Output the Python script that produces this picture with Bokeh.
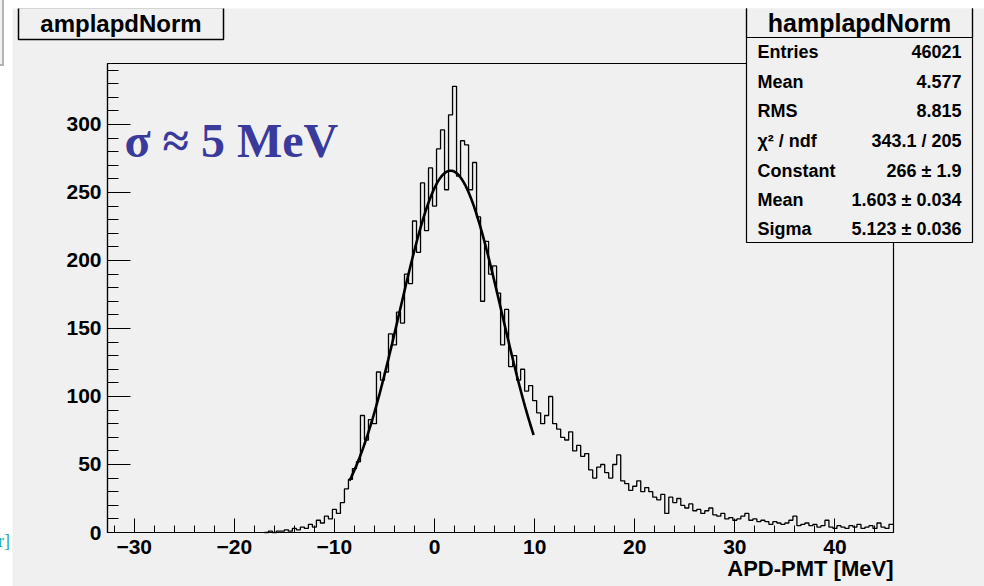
import numpy as np
from bokeh.plotting import figure
from bokeh.models import Range1d, SingleIntervalTicker, Label, BoxAnnotation, Div, LinearAxis
from bokeh.layouts import row
from bokeh.embed import file_html
from bokeh.resources import INLINE

# ---------------- data ----------------
bin_lo = -17.0
bin_width = 0.4
counts = [
    0, 1, 0, 1, 1, 2, 1, 3, 2, 4,
    3, 6, 4, 9, 7, 12, 10, 17, 14, 22,
    32, 39, 47, 52, 86, 68, 83, 80, 118, 112,
    118, 146, 138, 162, 154, 190, 183, 229, 206, 257,
    222, 268, 240, 282, 296, 252, 307, 328, 262, 288,
    285, 252, 272, 232, 170, 214, 190, 196, 176, 138,
    164, 122, 130, 112, 120, 104, 108, 97, 88, 80,
    86, 100, 80, 76, 70, 68, 74, 60, 64, 56,
    58, 46, 40, 48, 50, 44, 40, 50, 57, 38,
    36, 31, 34, 38, 30, 33, 30, 26, 24, 28,
    14, 26, 22, 25, 20, 18, 21, 16, 17, 14,
    16, 18, 13, 12, 14, 10, 11, 9, 10, 12,
    14, 9, 10, 8, 9, 8, 6, 8, 7, 6,
    7, 9, 12, 5, 6, 7, 5, 6, 4, 5,
    9, 4, 3, 5, 4, 3, 5, 4, 6, 3,
    4, 5, 3, 7, 4, 3, 6,
]

x_min, x_max = -32.67, 45.85
y_min, y_max = 0.0, 344.8

fit_constant = 266.0
fit_mean = 1.603
fit_sigma = 5.123
fit_lo, fit_hi = -8.5, 9.9

title_text = "amplapdNorm"
stats_title = "hamplapdNorm"
stats_names = ["Entries", "Mean", "RMS", "χ² / ndf", "Constant", "Mean", "Sigma"]
stats_values = ["46021", "4.577", "8.815", "343.1 / 205", "266 ± 1.9",
                "1.603 ± 0.034", "5.123 ± 0.036"]
x_label = "APD-PMT [MeV]"
note_text = "σ ≈ 5 MeV"

# ---------------- geometry ----------------
W, H = 972, 578          # figure size (page offset 12, 8)
OX, OY = 12, 8
FL, FR, FT, FB = 107, 893, 63, 532   # plot box in page pixels
BG = "#f0f0f0"


def px2x(px):
    return x_min + (px - FL) * (x_max - x_min) / (FR - FL)


def py2y(py):
    return y_min + (FB - py) * (y_max - y_min) / (FB - FT)


p = figure(width=W, height=H, output_backend="svg", toolbar_location=None,
           x_range=Range1d(px2x(OX), px2x(OX + W)),
           y_range=Range1d(py2y(OY + H), py2y(OY)),
           x_axis_type=None, y_axis_type=None,
           min_border=0, min_border_left=0, min_border_right=0,
           min_border_top=0, min_border_bottom=0,
           background_fill_color=BG, border_fill_color=BG,
           outline_line_color=None)
p.margin = (8, 0, 0, 0)

FONT = "Liberation Sans"
xaxis = LinearAxis(ticker=SingleIntervalTicker(interval=10, num_minor_ticks=5),
                   fixed_location=y_min, bounds=(x_min, x_max))
yaxis = LinearAxis(ticker=SingleIntervalTicker(interval=50, num_minor_ticks=5),
                   fixed_location=x_min, bounds=(y_min, y_max))
for ax, maj, mnr in ((xaxis, 14, 7), (yaxis, 23, 11)):
    ax.major_tick_in = maj
    ax.major_tick_out = 0
    ax.minor_tick_in = mnr
    ax.minor_tick_out = 0
    ax.axis_line_color = "black"
    ax.axis_line_width = 1.2
    ax.major_tick_line_color = "black"
    ax.minor_tick_line_color = "black"
    ax.major_label_text_font = FONT
    ax.major_label_text_font_style = "bold"
    ax.major_label_text_font_size = "21px"
    ax.major_label_text_color = "black"
xaxis.major_label_standoff = 7
yaxis.major_label_standoff = 6
p.add_layout(xaxis, "below")
p.add_layout(yaxis, "left")

# plot box outline (top and right edges)
p.add_layout(BoxAnnotation(left=x_min, right=x_max, bottom=y_min, top=y_max,
                           fill_alpha=0, line_color="black", line_alpha=1,
                           line_width=1.2, level="underlay"))

# histogram
edges = bin_lo + bin_width * np.arange(len(counts) + 1)
step_y = list(counts) + [counts[-1]]
p.step(x=edges, y=step_y, mode="after", line_color="black", line_width=1.3)

# gaussian fit
fx = np.linspace(fit_lo, fit_hi, 300)
fy = fit_constant * np.exp(-0.5 * ((fx - fit_mean) / fit_sigma) ** 2)
p.line(fx, fy, line_color="black", line_width=2.6)

# note
p.add_layout(Label(x=px2x(124), y=py2y(140), text=note_text, text_align="left",
                   text_baseline="middle", text_font="Liberation Serif",
                   text_font_style="bold", text_font_size="48px",
                   text_color="#3a3a9c"))


def dlabel(px, py, text, align, size):
    return Label(x=px2x(px), y=py2y(py), text=text, text_align=align,
                 text_baseline="middle", text_font=FONT, text_font_style="bold",
                 text_font_size=size, text_color="black")


def dbox(l, r, t, b, fill=True, lw=1.2):
    return BoxAnnotation(left=px2x(l), right=px2x(r), top=py2y(t), bottom=py2y(b),
                         fill_color=BG, fill_alpha=1 if fill else 0,
                         line_color="black", line_alpha=1, line_width=lw,
                         level="underlay")


# title box
p.add_layout(dbox(18, 223, 7, 39, lw=1.5))
p.add_layout(dlabel(120.5, 23, title_text, "center", "24px"))

# stats box
p.add_layout(dbox(746, 972, 7, 242))
p.add_layout(dbox(746, 972, 7, 37, fill=False))
p.add_layout(dlabel(859, 22, stats_title, "center", "25px"))
row_py = [51, 81, 110, 140, 170, 199, 228]
for name, val, ry in zip(stats_names, stats_values, row_py):
    p.add_layout(dlabel(757, ry, name, "left", "18px"))
    p.add_layout(dlabel(961, ry, val, "right", "18px"))

# x axis title (right aligned, like ROOT)
p.add_layout(dlabel(893, 568, x_label, "right", "22px"))

left = Div(width=12, height=586, margin=(0, 0, 0, 0),
           text=('<div style="position:relative;width:12px;height:586px;overflow:hidden;background:#fff">'
                 '<div style="position:absolute;left:-4px;top:-2px;width:8px;height:68px;'
                 'border:2px solid #b4b4b4;background:#f0f0f0"></div>'
                 '<div style="position:absolute;left:-2px;top:531px;color:#2aa6b0;'
                 'font:18px \'Liberation Serif\'">r]</div></div>'))

layout = row(left, p)
layout.margin = (0, 0, 0, 0)
layout.spacing = 0
open("out.html", "w").write(file_html(layout, INLINE))
